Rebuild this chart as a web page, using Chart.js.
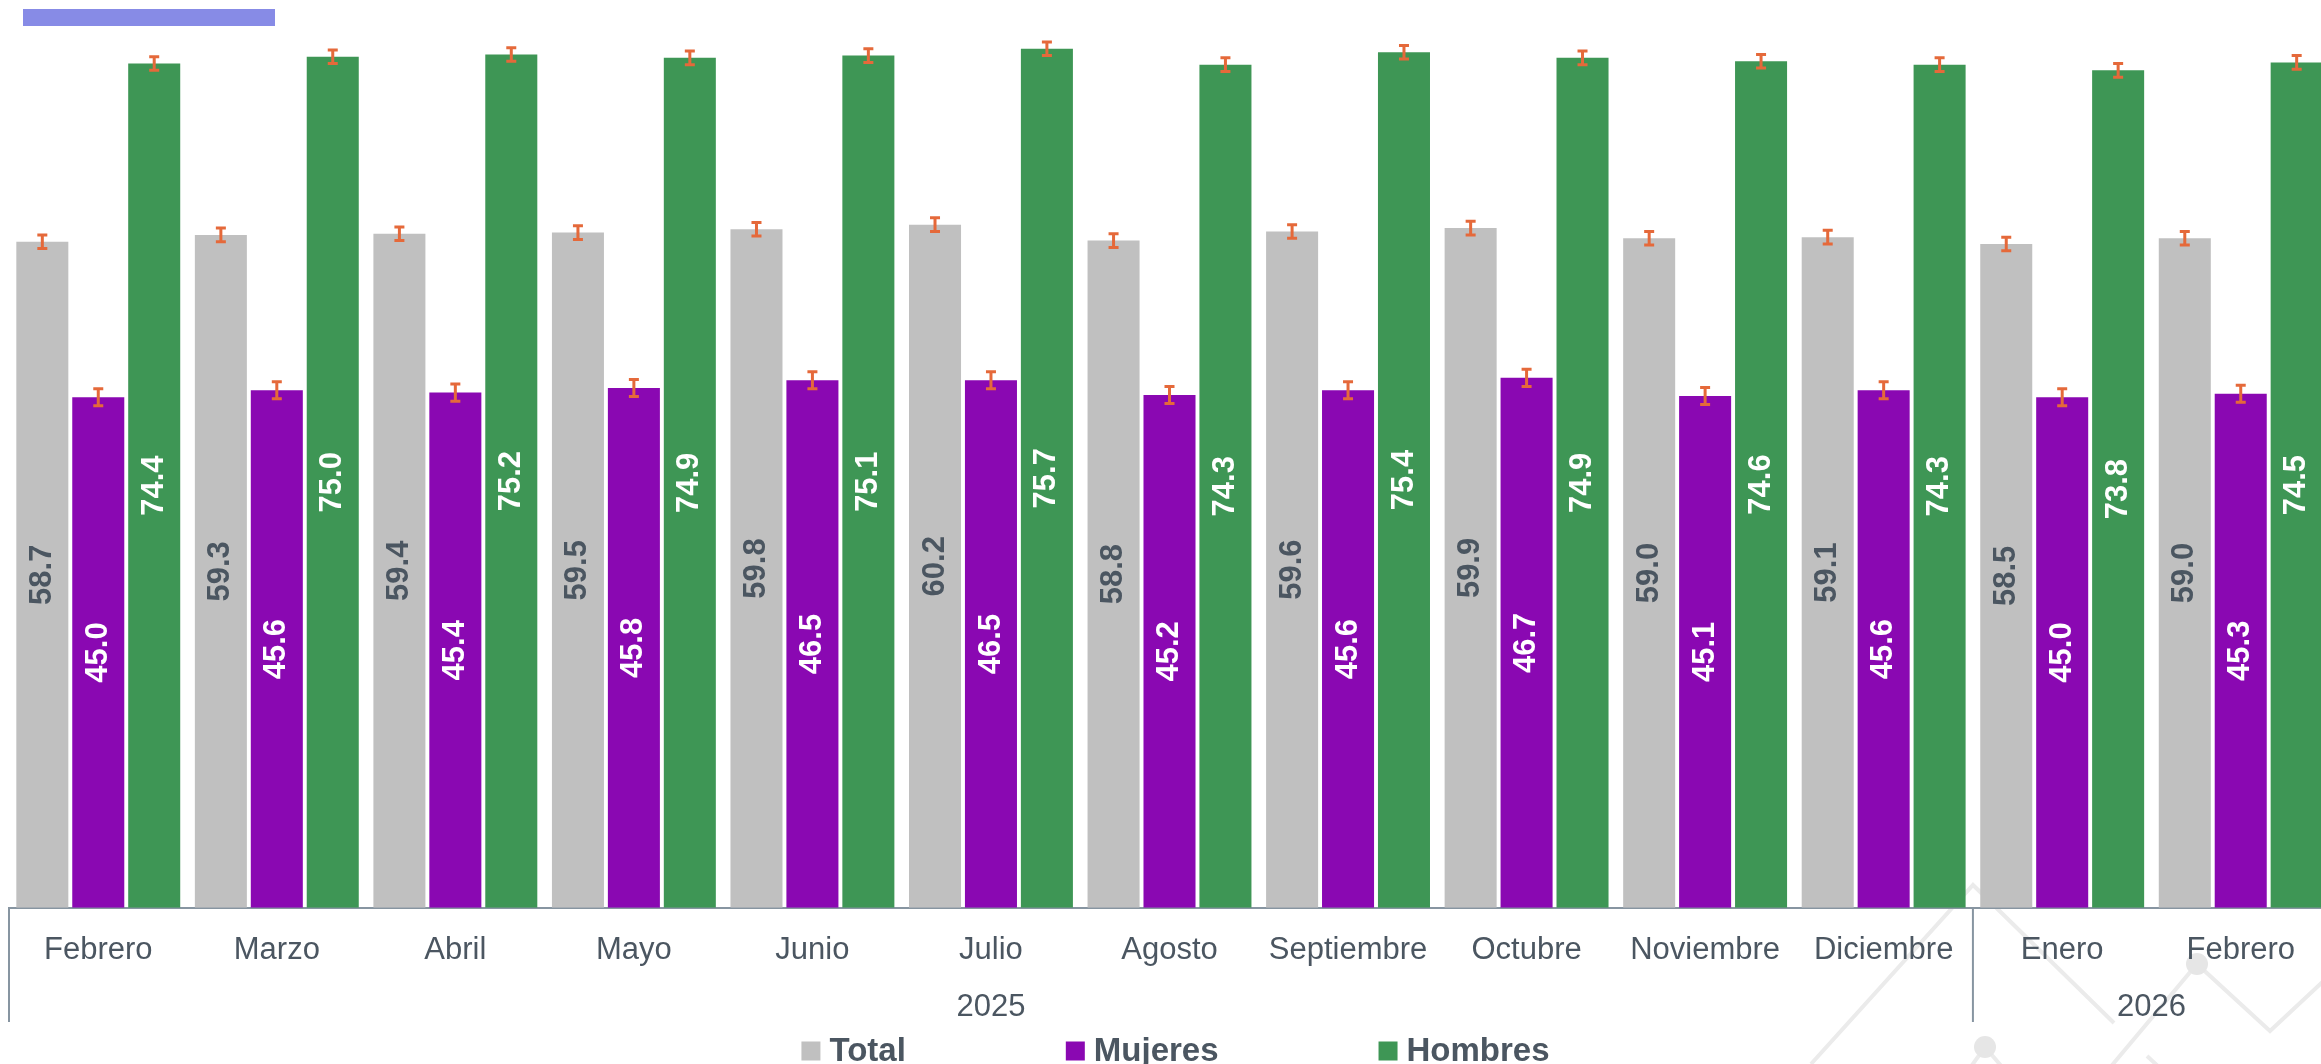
<!DOCTYPE html>
<html>
<head>
<meta charset="utf-8">
<script src="https://cdn.jsdelivr.net/npm/chart.js@4.4.0/dist/chart.umd.min.js"></script>
<style>
  html, body { margin: 0; padding: 0; background: #fff; overflow: hidden; }
  #wrap { position: relative; width: 2330px; height: 1064px; }
  #tag { position: absolute; left: 23px; top: 9px; width: 252px; height: 17px; background: #878be6; }
</style>
</head>
<body>
<div id="wrap">
  <canvas id="chart"></canvas>
  <div id="tag"></div>
</div>
<script>
// ---- data ----
const months = ['Febrero','Marzo','Abril','Mayo','Junio','Julio','Agosto','Septiembre','Octubre','Noviembre','Diciembre','Enero','Febrero'];
const years = ['2025', '2026'];
const monthsPerYear = [11, 2];

const total   = [58.7, 59.3, 59.4, 59.5, 59.8, 60.2, 58.8, 59.6, 59.9, 59.0, 59.1, 58.5, 59.0];
const mujeres = [45.0, 45.6, 45.4, 45.8, 46.5, 46.5, 45.2, 45.6, 46.7, 45.1, 45.6, 45.0, 45.3];
const hombres = [74.4, 75.0, 75.2, 74.9, 75.1, 75.7, 74.3, 75.4, 74.9, 74.6, 74.3, 73.8, 74.5];

// error margins (+/-) per series
const errTotal   = [0.6, 0.6, 0.6, 0.6, 0.6, 0.6, 0.6, 0.6, 0.6, 0.6, 0.6, 0.6, 0.6];
const errMujeres = [0.75, 0.75, 0.75, 0.75, 0.75, 0.75, 0.75, 0.75, 0.75, 0.75, 0.75, 0.75, 0.75];
const errHombres = [0.6, 0.6, 0.6, 0.6, 0.6, 0.6, 0.6, 0.6, 0.6, 0.6, 0.6, 0.6, 0.6];

const TEXT = '#4b5661';
const AXIS = '#8795a1';
const FONT = "'Liberation Sans', Arial, sans-serif";

const errors = [errTotal, errMujeres, errHombres];
const labelColors = [TEXT, '#ffffff', '#ffffff'];

// faint background decoration (bottom right corner)
const backdrop = {
  id: 'backdrop',
  beforeDraw(chart) {
    const ctx = chart.ctx;
    ctx.save();
    ctx.strokeStyle = '#ebebeb';
    ctx.fillStyle = '#e6e6e6';
    ctx.lineWidth = 4;
    const paths = [
      [[1811, 1064], [1973, 885], [2114, 1023]],
      [[2108, 1070], [2197, 964], [2270, 1031], [2330, 975]],
      [[1970, 1068], [1985, 1047], [2003, 1068]],
      [[2147, 1056], [2160, 1068]]
    ];
    paths.forEach(p => {
      ctx.beginPath();
      p.forEach(([px, py], k) => k ? ctx.lineTo(px, py) : ctx.moveTo(px, py));
      ctx.stroke();
    });
    [[2197, 964], [1985, 1047]].forEach(([cx, cy]) => {
      ctx.beginPath();
      ctx.arc(cx, cy, 11, 0, Math.PI * 2);
      ctx.fill();
    });
    ctx.restore();
  }
};

// ---- error bars, value labels, year row, legend ----
const extras = {
  id: 'extras',
  afterDatasetsDraw(chart) {
    const ctx = chart.ctx;
    const y = chart.scales.y;
    ctx.save();
    // error bars
    chart.data.datasets.forEach((ds, i) => {
      chart.getDatasetMeta(i).data.forEach((bar, j) => {
        const v = ds.data[j], e = errors[i][j];
        const t = y.getPixelForValue(v + e), b = y.getPixelForValue(v - e);
        ctx.strokeStyle = '#e5693a';
        ctx.lineWidth = 3;
        ctx.beginPath();
        ctx.moveTo(bar.x, t); ctx.lineTo(bar.x, b);
        ctx.moveTo(bar.x - 5, t); ctx.lineTo(bar.x + 5, t);
        ctx.moveTo(bar.x - 5, b); ctx.lineTo(bar.x + 5, b);
        ctx.stroke();
      });
    });
    // rotated value labels in the middle of each bar
    ctx.font = 'bold 31px ' + FONT;
    ctx.textAlign = 'center';
    ctx.textBaseline = 'middle';
    chart.data.datasets.forEach((ds, i) => {
      ctx.fillStyle = labelColors[i];
      chart.getDatasetMeta(i).data.forEach((bar, j) => {
        ctx.save();
        ctx.translate(bar.x, (bar.y + bar.base) / 2);
        ctx.rotate(-Math.PI / 2);
        ctx.fillText(ds.data[j].toFixed(1), 0, 0);
        ctx.restore();
      });
    });
    ctx.restore();
  },
  afterDraw(chart) {
    const ctx = chart.ctx;
    const x = chart.scales.x;
    const area = chart.chartArea;
    const step = (x.right - x.left) / months.length;
    ctx.save();
    // year group separators and year names
    ctx.strokeStyle = AXIS;
    ctx.lineWidth = 2;
    ctx.font = '31px ' + FONT;
    ctx.fillStyle = TEXT;
    ctx.textAlign = 'center';
    ctx.textBaseline = 'middle';
    let start = x.left;
    ctx.beginPath();
    ctx.moveTo(start, area.bottom); ctx.lineTo(start, 1022);
    ctx.stroke();
    years.forEach((yr, k) => {
      const end = start + monthsPerYear[k] * step;
      if (k < years.length - 1) {
        ctx.beginPath();
        ctx.moveTo(end, area.bottom); ctx.lineTo(end, 1022);
        ctx.stroke();
      }
      ctx.fillText(yr, (start + end) / 2, 1007);
      start = end;
    });

    // legend
    ctx.font = 'bold 33px ' + FONT;
    ctx.textAlign = 'left';
    const box = 19, gapIn = 9, gapOut = 160;
    const items = chart.data.datasets.map(d => ({ text: d.label, color: d.backgroundColor, w: box + gapIn + ctx.measureText(d.label).width }));
    const totalW = items.reduce((s, it) => s + it.w, 0) + gapOut * (items.length - 1);
    let lx = 2321 / 2 - totalW / 2 + 15;
    const ly = 1051;
    items.forEach(it => {
      ctx.fillStyle = it.color;
      ctx.fillRect(lx, ly - box / 2, box, box);
      ctx.fillStyle = TEXT;
      ctx.fillText(it.text, lx + box + gapIn, ly + 1);
      lx += it.w + gapOut;
    });
    ctx.restore();
  }
};

new Chart(document.getElementById('chart'), {
  type: 'bar',
  data: {
    labels: months,
    datasets: [
      { label: 'Total',   data: total,   backgroundColor: '#c0c0c0' },
      { label: 'Mujeres', data: mujeres, backgroundColor: '#8a08b2' },
      { label: 'Hombres', data: hombres, backgroundColor: '#3e9655' }
    ]
  },
  options: {
    responsive: true,
    maintainAspectRatio: false,
    animation: false,
    categoryPercentage: 0.94,
    barPercentage: 0.93,
    layout: { padding: { left: 9, right: 0, top: 0, bottom: 71 } },
    plugins: {
      legend: { display: false },
      tooltip: { enabled: false }
    },
    scales: {
      x: {
        grid: { display: false, drawTicks: false },
        border: { color: AXIS, width: 2 },
        ticks: { color: TEXT, font: { family: FONT, size: 31 }, padding: 24, maxRotation: 0, autoSkip: false }
      },
      y: { display: false, min: 0, max: 80 }
    }
  },
  plugins: [backdrop, extras]
});
</script>
</body>
</html>
